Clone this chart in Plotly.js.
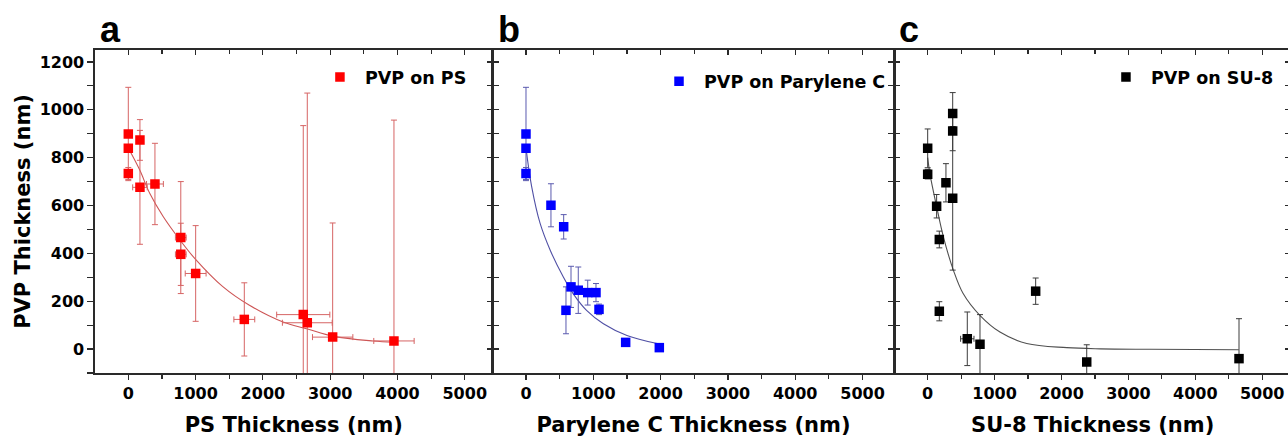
<!DOCTYPE html>
<html>
<head>
<meta charset="utf-8">
<script src="https://cdn.plot.ly/plotly-3.0.1.min.js"></script>
<style>
  html, body { margin: 0; padding: 0; overflow: hidden; background: #fff; }
  #chart { width: 1291px; height: 439px; }
</style>
</head>
<body>
<div id="chart"></div>
<script>
// ---------- Data ----------
// Panel a: PVP on PS
const psX    = [0, 0, 0, 173, 173, 396, 780, 780, 1001, 1724, 2600, 2660, 3037, 3948];
const psY    = [899, 839, 734, 874, 676, 690, 466, 396, 316, 124, 144, 110, 50, 34];
const psErrY = [195, 15, 25, 85, 238, 170, 234, 130, 200, 153, 790, 960, 477, 923];
const psErrX = [0, 30, 0, 0, 108, 125, 80, 80, 155, 155, 395, 370, 300, 300];
const psFitX = [0, 170, 320, 520, 770, 990, 1400, 1800, 2300, 2650, 3050, 3640, 3940];
const psFitY = [840, 748, 650, 553, 455, 378, 262, 183, 113, 85, 53, 34, 29];

// Panel b: PVP on Parylene C
const pcX    = [0, 0, 0, 371, 560, 594, 669, 777, 917, 1040, 1085, 1481, 1981];
const pcY    = [899, 839, 734, 601, 511, 162, 260, 246, 236, 236, 166, 28, 6];
const pcErrY = [195, 10, 25, 90, 51, 98, 86, 97, 52, 38, 22, 0, 0];
const pcErrX = [0, 0, 0, 0, 0, 20, 0, 0, 0, 0, 0, 0, 0];
const pcFitX = [0, 85, 210, 360, 555, 700, 900, 1150, 1500, 1950];
const pcFitY = [840, 678, 525, 413, 301, 232, 162, 106, 57, 23];

// Panel c: PVP on SU-8
const suX    = [0, 0, 134, 174, 174, 273, 374, 374, 374, 592, 782, 1614, 2377, 4653];
const suY    = [839, 731, 597, 458, 158, 695, 985, 911, 630, 43, 20, 242, -54, -40];
const suErrY = [81, 20, 49, 35, 40, 80, 87, 82, 300, 112, 124, 55, 72, 167];
const suErrX = [0, 0, 0, 0, 0, 0, 0, 0, 0, 100, 0, 0, 0, 0];
const suFitX = [0, 35, 135, 235, 385, 530, 780, 1080, 1480, 2080, 2580, 3320, 4650];
const suFitY = [800, 730, 594, 469, 329, 232, 141, 71, 23, 6, 1, -1, -3];

// Labels
const seriesNames = ['PVP on PS', 'PVP on Parylene C', 'PVP on SU-8'];
const xTitles = ['PS Thickness (nm)', 'Parylene C Thickness (nm)', 'SU-8 Thickness (nm)'];
const yTitle = 'PVP Thickness (nm)';
const panelLetters = ['a', 'b', 'c'];
const xTickVals = [0, 1000, 2000, 3000, 4000, 5000];
const yTickVals = [0, 200, 400, 600, 800, 1000, 1200];

// ---------- Styling ----------
const FONT = 'DejaVu Sans';
const markerColors = ['#ff0000', '#0000ff', '#000000'];
const errColors = ['rgb(214,100,100)', 'rgb(90,90,175)', 'rgb(60,60,60)'];
const fitColors = ['rgb(205,85,85)', 'rgb(80,80,165)', 'rgb(80,80,80)'];
const AX = '#2a2a2a';

const sets = [
  {x: psX, y: psY, ey: psErrY, ex: psErrX, fx: psFitX, fy: psFitY},
  {x: pcX, y: pcY, ey: pcErrY, ex: pcErrX, fx: pcFitX, fy: pcFitY},
  {x: suX, y: suY, ey: suErrY, ex: suErrX, fx: suFitX, fy: suFitY}
];

const domains = [[0, 0.3325], [0.3325, 0.6683], [0.6683, 1]];
const xRanges = [[-495, 5415], [-495, 5472], [-499, 5430]];
const yRange = [-100, 1250];
const legendX = [0.1839, 0.4674, 0.8411];
const legendY = [0.916, 0.903, 0.916];

const traces = [];
const layout = {
  width: 1291, height: 439,
  margin: {l: 95, r: 0, t: 50, b: 66},
  paper_bgcolor: '#fff', plot_bgcolor: '#fff',
  showlegend: true,
  font: {family: FONT, color: '#000'},
  annotations: []
};

sets.forEach((s, i) => {
  const n = i + 1;
  const xa = n === 1 ? 'x' : 'x' + n;
  const ya = n === 1 ? 'y' : 'y' + n;
  const legendId = n === 1 ? 'legend' : 'legend' + n;
  // fit curve
  traces.push({
    type: 'scatter', mode: 'lines', x: s.fx, y: s.fy,
    xaxis: xa, yaxis: ya, showlegend: false, hoverinfo: 'skip',
    line: {color: fitColors[i], width: 1.1, shape: 'spline', smoothing: 1}
  });
  // data points with error bars
  traces.push({
    type: 'scatter', mode: 'markers', name: seriesNames[i],
    x: s.x, y: s.y, xaxis: xa, yaxis: ya, legend: legendId,
    marker: {symbol: 'square', size: 9.5, color: markerColors[i], line: {width: 0}},
    error_y: {type: 'data', array: s.ey, visible: true, color: errColors[i], thickness: 1, width: 3},
    error_x: {type: 'data', array: s.ex, visible: true, color: errColors[i], thickness: 1, width: 3}
  });
  // empty trace on overlay axes (top / right inner ticks)
  traces.push({
    type: 'scatter', mode: 'markers', x: [], y: [],
    xaxis: 'x' + (n + 3), yaxis: 'y' + (n + 3), showlegend: false, hoverinfo: 'skip'
  });

  const xKey = n === 1 ? 'xaxis' : 'xaxis' + n;
  const yKey = n === 1 ? 'yaxis' : 'yaxis' + n;

  layout[xKey] = {
    domain: domains[i], anchor: ya, range: xRanges[i], autorange: false,
    showgrid: false, zeroline: false,
    showline: true, mirror: true, linecolor: AX, linewidth: 1.6,
    tickmode: 'array', tickvals: xTickVals,
    ticks: 'outside', ticklen: 5, tickwidth: 1.2, tickcolor: AX,
    minor: {dtick: 500, ticks: 'outside', ticklen: 4, tickwidth: 1.2, tickcolor: AX, showgrid: false},
    tickfont: {family: FONT, size: 16, weight: 'bold', color: '#000'},
    title: {text: xTitles[i], standoff: 15, font: {family: FONT, size: 21, weight: 'bold', color: '#000'}}
  };
  layout[yKey] = {
    domain: [0, 1], anchor: xa, range: yRange, autorange: false,
    showgrid: false, zeroline: false,
    showline: true, mirror: true, linecolor: AX, linewidth: 1.6,
    tickmode: 'array', tickvals: yTickVals,
    ticks: n === 1 ? 'outside' : 'inside', ticklen: 6, tickwidth: 1.2, tickcolor: AX,
    minor: {dtick: 100, ticks: n === 1 ? 'outside' : 'inside', ticklen: 6, tickwidth: 1.2, tickcolor: AX, showgrid: false},
    showticklabels: n === 1,
    tickfont: {family: FONT, size: 16, weight: 'bold', color: '#000'}
  };
  if (n === 1) {
    layout[yKey].title = {text: yTitle, standoff: 3, font: {family: FONT, size: 21, weight: 'bold', color: '#000'}};
  }
  // overlay axes for inward ticks on top and right
  layout['xaxis' + (n + 3)] = {
    overlaying: xa, side: 'top', anchor: ya, range: xRanges[i], autorange: false,
    showgrid: false, zeroline: false, showline: false, showticklabels: false,
    tickmode: 'array', tickvals: xTickVals,
    ticks: 'inside', ticklen: 5, tickwidth: 1.2, tickcolor: AX,
    minor: {dtick: 500, ticks: 'inside', ticklen: 4, tickwidth: 1.2, tickcolor: AX, showgrid: false}
  };
  layout['yaxis' + (n + 3)] = {
    overlaying: ya, side: 'right', anchor: xa, range: yRange, autorange: false,
    showgrid: false, zeroline: false, showline: false, showticklabels: false,
    tickmode: 'array', tickvals: yTickVals,
    ticks: 'inside', ticklen: 6, tickwidth: 1.2, tickcolor: AX,
    minor: {dtick: 100, ticks: 'inside', ticklen: 6, tickwidth: 1.2, tickcolor: AX, showgrid: false}
  };

  layout[legendId] = {
    x: legendX[i], y: legendY[i], xanchor: 'left', yanchor: 'middle',
    xref: 'paper', yref: 'paper',
    bgcolor: 'rgba(0,0,0,0)', borderwidth: 0, itemwidth: 40,
    font: {family: FONT, size: 17.5, weight: 'bold', color: '#000'}
  };

  layout.annotations.push({
    text: panelLetters[i], xref: 'paper', yref: 'paper',
    x: domains[i][0], y: 1.062, xanchor: 'left', yanchor: 'middle',
    xshift: 3, showarrow: false,
    font: {family: 'Liberation Sans', size: 36, weight: 'bold', color: '#000'}
  });
});

Plotly.newPlot('chart', traces, layout, {staticPlot: true, displayModeBar: false});
</script>
</body>
</html>
